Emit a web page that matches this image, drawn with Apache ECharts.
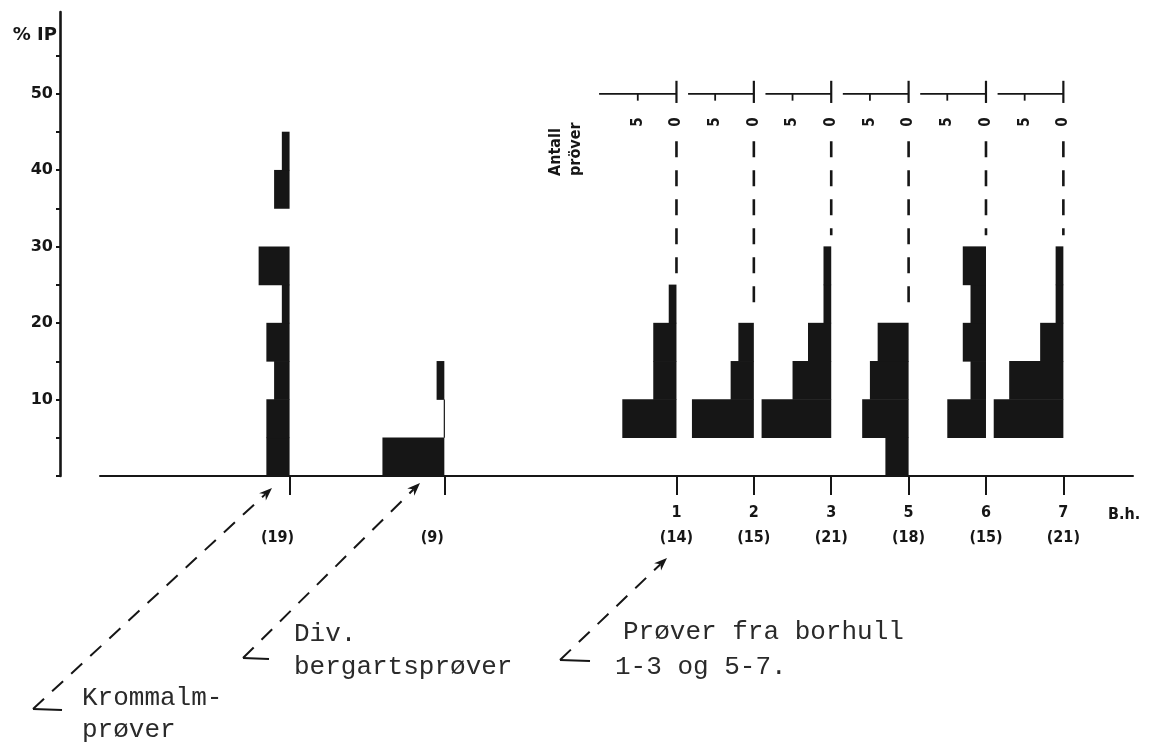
<!DOCTYPE html>
<html>
<head>
<meta charset="utf-8">
<title>% IP histogrammer</title>
<script src="https://cdn.jsdelivr.net/npm/echarts@6/dist/echarts.min.js"></script>
<style>
  html, body { margin: 0; padding: 0; background: #fff; }
  #main { width: 1155px; height: 746px; }
</style>
</head>
<body>
<div id="main"></div>
<script>
// % IP - antall prøver pr. 5 %-intervall, for hver prøvegruppe
var binSize = 5;
var groupLabels = ['', '', '1', '2', '3', '5', '6', '7'];
var groupPos = [10, 30, 60, 70, 80, 90, 100, 110];
var groupTotals = [19, 9, 14, 15, 21, 18, 15, 21];

// antall prøver i hvert intervall, fra 0-5 % og oppover
var krommalm = [3, 3, 2, 3, 1, 4, 0, 2, 1];
var divBergart = [8, 0, 1];
var bh1 = [0, 7, 3, 3, 1];
var bh2 = [0, 8, 3, 2];
var bh3 = [0, 9, 5, 3, 1, 1];
var bh5 = [3, 6, 5, 4];
var bh6 = [0, 5, 2, 3, 2, 3];
var bh7 = [0, 9, 7, 3, 1, 1];

var yTickValues = [0, 5, 10, 15, 20, 25, 30, 35, 40, 45, 50, 55];
var yLabelValues = [10, 20, 30, 40, 50];
var scaleLabels = ['5', '0'];

var allCounts = [krommalm, divBergart, bh1, bh2, bh3, bh5, bh6, bh7];

var ink = '#161616';
var labelFont = '"DejaVu Sans Condensed", "DejaVu Sans", sans-serif';
var typeFont = '"Liberation Mono", "DejaVu Sans Mono", monospace';

// søyler: [posisjon, fra %, til %, antall]
var barData = [];
allCounts.forEach(function (arr, g) {
  arr.forEach(function (c, i) {
    if (c > 0) barData.push([groupPos[g], i * binSize, (i + 1) * binSize, c]);
  });
});

// borhull: stiplet linje fra skala ned til øverste søyle
var leaderData = allCounts.slice(2).map(function (arr, k) {
  var highest = 0;
  arr.forEach(function (c, i) { if (c > 0) highest = (i + 1) * binSize; });
  return [groupPos[k + 2], highest];
});

var myChart = echarts.init(document.getElementById('main'), null, { renderer: 'canvas' });

function renderBar(params, api) {
  var a = api.coord([api.value(0) - api.value(3), api.value(2)]);
  var b = api.coord([api.value(0), api.value(1)]);
  return {
    type: 'rect',
    shape: { x: a[0], y: a[1] - 0.3, width: b[0] - a[0], height: b[1] - a[1] + 0.6 },
    style: { fill: ink }
  };
}

function renderLeader(params, api) {
  var p0 = api.coord([api.value(0), 43.8]);
  var p1 = api.coord([api.value(0), api.value(1) + 1.5]);
  return {
    type: 'line',
    shape: { x1: p0[0], y1: p0[1], x2: p1[0], y2: p1[1] },
    style: { stroke: ink, lineWidth: 2.6, lineDash: [16, 13] }
  };
}

function renderScale(params, api) {
  var pos = api.value(0);
  var len = params.dataIndex === 0 ? 10 : 8.5;
  var l0 = api.coord([pos - len, 50]);
  var l1 = api.coord([pos, 50]);
  var t0 = api.coord([pos, 51.7]);
  var t1 = api.coord([pos, 48.8]);
  var f0 = api.coord([pos - 5, 50]);
  var f1 = api.coord([pos - 5, 49.1]);
  var lab0 = api.coord([pos, 46.3]);
  var lab5 = api.coord([pos - 5, 46.3]);
  var txt = function (p, s) {
    return {
      type: 'text', x: p[0], y: p[1], rotation: Math.PI / 2,
      style: { text: s, fill: ink, font: 'bold 15px ' + labelFont, align: 'center', verticalAlign: 'middle' }
    };
  };
  return {
    type: 'group',
    children: [
      { type: 'line', shape: { x1: l0[0], y1: l0[1], x2: l1[0], y2: l1[1] }, style: { stroke: ink, lineWidth: 1.8 } },
      { type: 'line', shape: { x1: t0[0], y1: t0[1], x2: t1[0], y2: t1[1] }, style: { stroke: ink, lineWidth: 2.2 } },
      { type: 'line', shape: { x1: f0[0], y1: f0[1], x2: f1[0], y2: f1[1] }, style: { stroke: ink, lineWidth: 1.8 } },
      txt(lab5, scaleLabels[0]),
      txt(lab0, scaleLabels[1])
    ]
  };
}

// piler fra teksten opp til søylene
var arrows = [
  { corner: [33, 709], tip: [272, 488], foot: 29 },
  { corner: [243, 658], tip: [420, 483], foot: 26 },
  { corner: [560, 660], tip: [667, 558], foot: 30 }
];
var arrowGraphics = [];
arrows.forEach(function (a) {
  var dx = a.tip[0] - a.corner[0], dy = a.tip[1] - a.corner[1];
  var L = Math.sqrt(dx * dx + dy * dy);
  var ux = dx / L, uy = dy / L, nx = -uy, ny = ux;
  var bx = a.tip[0] - ux * 13, by = a.tip[1] - uy * 13;
  arrowGraphics.push({
    type: 'line',
    shape: { x1: a.corner[0], y1: a.corner[1], x2: a.tip[0] - ux * 9, y2: a.tip[1] - uy * 9 },
    style: { stroke: ink, lineWidth: 2, lineDash: [15, 11] }
  });
  arrowGraphics.push({
    type: 'line',
    shape: { x1: a.corner[0], y1: a.corner[1], x2: a.corner[0] + a.foot, y2: a.corner[1] + 1 },
    style: { stroke: ink, lineWidth: 2 }
  });
  arrowGraphics.push({
    type: 'polygon',
    shape: { points: [[a.tip[0], a.tip[1]], [bx + nx * 5, by + ny * 5], [a.tip[0] - ux * 9, a.tip[1] - uy * 9], [bx - nx * 5, by - ny * 5]] },
    style: { fill: ink }
  });
});

var textGraphics = [
  { type: 'text', x: 57, y: 35, style: { text: '% IP', font: 'bold 18px "DejaVu Sans", sans-serif', fill: ink, align: 'right', verticalAlign: 'middle' } },
  { type: 'text', x: 1108, y: 515, style: { text: 'B.h.', font: 'bold 16px ' + labelFont, fill: ink, align: 'left', verticalAlign: 'middle' } },
  { type: 'text', x: 566, y: 176, rotation: Math.PI / 2, style: { text: 'Antall\npröver', font: 'bold 16px ' + labelFont, lineHeight: 20, fill: ink, align: 'left', verticalAlign: 'middle' } },
  { type: 'text', x: 294, y: 634, style: { text: 'Div.', font: '26px ' + typeFont, fill: '#2a2a2a', verticalAlign: 'middle' } },
  { type: 'text', x: 294, y: 667, style: { text: 'bergartsprøver', font: '26px ' + typeFont, fill: '#2a2a2a', verticalAlign: 'middle' } },
  { type: 'text', x: 82, y: 698, style: { text: 'Krommalm-', font: '26px ' + typeFont, fill: '#2a2a2a', verticalAlign: 'middle' } },
  { type: 'text', x: 82, y: 730, style: { text: 'prøver', font: '26px ' + typeFont, fill: '#2a2a2a', verticalAlign: 'middle' } },
  { type: 'text', x: 623, y: 632, style: { text: 'Prøver fra borhull', font: '26px ' + typeFont, fill: '#2a2a2a', verticalAlign: 'middle' } },
  { type: 'text', x: 615, y: 667, style: { text: '1-3 og 5-7.', font: '26px ' + typeFont, fill: '#2a2a2a', verticalAlign: 'middle' } }
];

var option = {
  backgroundColor: '#fff',
  animation: false,
  grid: { left: 100, right: 22, top: 12, bottom: 270, containLabel: false },
  xAxis: {
    type: 'value',
    min: -14.5,
    max: 119,
    splitLine: { show: false },
    axisLine: { show: true, onZero: false, lineStyle: { color: ink, width: 2 } },
    axisTick: { show: true, customValues: groupPos, length: 19, lineStyle: { color: ink, width: 2 } },
    axisLabel: {
      show: true,
      customValues: groupPos,
      margin: 24,
      formatter: function (v) {
        var i = groupPos.indexOf(v);
        if (i < 0) return '';
        if (groupLabels[i] === '') return '{b| }\n{s|(' + groupTotals[i] + ')}';
        return '{b|' + groupLabels[i] + '}\n{n|(' + groupTotals[i] + ')}';
      },
      rich: {
        b: { fontFamily: labelFont, fontWeight: 'bold', fontSize: 16, color: ink, lineHeight: 25 },
        n: { fontFamily: labelFont, fontWeight: 'bold', fontSize: 16, color: ink, lineHeight: 25 },
        s: { fontFamily: labelFont, fontWeight: 'bold', fontSize: 16, color: ink, lineHeight: 25, padding: [0, 24, 0, 0] }
      }
    }
  },
  yAxis: {
    type: 'value',
    min: 0,
    max: 60.7,
    offset: 40,
    splitLine: { show: false },
    axisLine: { show: true, onZero: false, lineStyle: { color: ink, width: 2.6 } },
    axisTick: { show: true, customValues: yTickValues, length: 4, lineStyle: { color: ink, width: 2 } },
    axisLabel: {
      customValues: yLabelValues,
      margin: 7,
      color: ink,
      fontWeight: 'bold',
      fontSize: 16,
      fontFamily: '"DejaVu Sans", sans-serif'
    }
  },
  graphic: textGraphics.concat(arrowGraphics),
  series: [
    { name: 'søyler', type: 'custom', renderItem: renderBar, encode: { x: 0, y: [1, 2] }, data: barData, silent: true },
    { name: 'stiplet', type: 'custom', renderItem: renderLeader, encode: { x: 0, y: 1 }, data: leaderData, silent: true },
    { name: 'skala', type: 'custom', renderItem: renderScale, encode: { x: 0 }, data: leaderData, silent: true },
    {
      name: 'stilk',
      type: 'line',
      data: [[groupPos[1], binSize], [groupPos[1], 2 * binSize]],
      symbol: 'none',
      lineStyle: { color: ink, width: 1.2 },
      silent: true
    }
  ]
};

if (option && typeof option === 'object') {
  myChart.setOption(option, true);
}
</script>
</body>
</html>
